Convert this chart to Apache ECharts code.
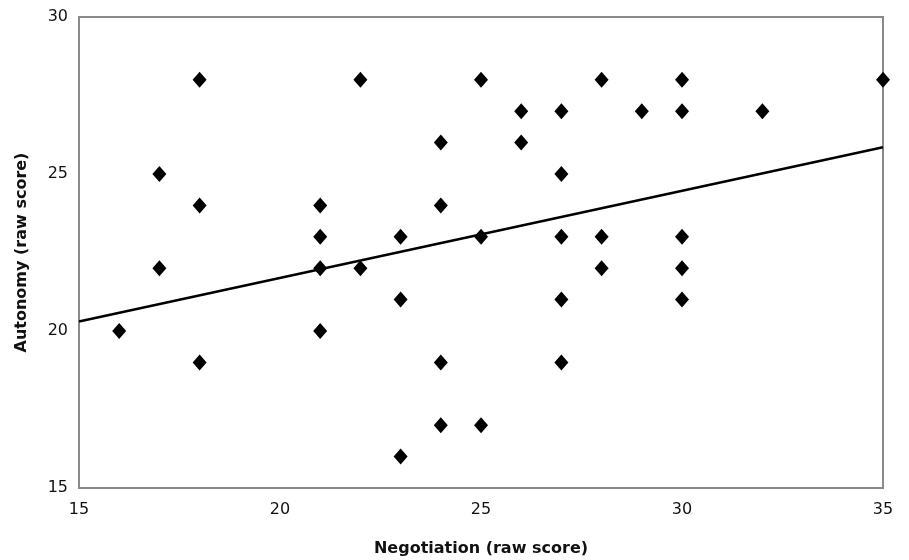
<!DOCTYPE html>
<html>
<head>
<meta charset="utf-8">
<script src="https://cdn.jsdelivr.net/npm/echarts@6/dist/echarts.min.js"></script>
<style>html,body{margin:0;padding:0;background:#fff;}#c{width:909px;height:560px;}</style>
</head>
<body>
<div id="c"></div>
<script>
const negotiation = [16,17,17,18,18,18,21,21,21,21,22,22,23,23,23,24,24,24,24,25,25,25,26,26,27,27,27,27,27,28,28,28,29,30,30,30,30,30,32,35];
const autonomy    = [20,25,22,28,24,19,24,23,22,20,28,22,23,21,16,26,24,19,17,28,23,17,27,26,27,25,23,21,19,28,23,22,27,28,27,23,22,21,27,28];
const trendX = [15, 35];
const trendY = [20.3, 25.85];
const xTicks = [15, 20, 25, 30, 35];
const yTicks = [15, 20, 25, 30];

const points = negotiation.map((x, i) => [x, autonomy[i]]);
const trend = trendX.map((x, i) => [x, trendY[i]]);
const font = 'DejaVu Sans';

const chart = echarts.init(document.getElementById('c'));
chart.setOption({
  animation: false,
  grid: {left: 79, top: 17, right: 26, bottom: 72, outerBoundsMode: 'none', containLabel: false,
    show: true, borderColor: '#8a8a8a', borderWidth: 2, backgroundColor: '#fff'},
  xAxis: {
    type: 'value', min: 15, max: 35, interval: 5,
    name: 'Negotiation (raw score)', nameLocation: 'middle', nameGap: 53,
    nameTextStyle: {fontFamily: font, fontSize: 16, fontWeight: 'bold', color: '#111'},
    axisLine: {show: false}, axisTick: {show: false}, splitLine: {show: false},
    axisLabel: {fontFamily: font, fontSize: 16, color: '#111', margin: 14,
      formatter: v => xTicks.includes(v) ? String(v) : ''}
  },
  yAxis: {
    type: 'value', min: 15, max: 30, interval: 5,
    name: 'Autonomy (raw score)', nameLocation: 'middle', nameGap: 49,
    nameTextStyle: {fontFamily: font, fontSize: 16, fontWeight: 'bold', color: '#111'},
    axisLine: {show: false}, axisTick: {show: false}, splitLine: {show: false},
    axisLabel: {fontFamily: font, fontSize: 16, color: '#111', margin: 11,
      formatter: v => yTicks.includes(v) ? String(v) : ''}
  },
  series: [
    {type: 'line', data: trend, symbol: 'none', lineStyle: {color: '#000', width: 2.5}, z: 2},
    {type: 'scatter', data: points, symbol: 'diamond', symbolSize: [14, 16], itemStyle: {color: '#000', opacity: 1}, z: 3}
  ]
});
</script>
</body>
</html>
